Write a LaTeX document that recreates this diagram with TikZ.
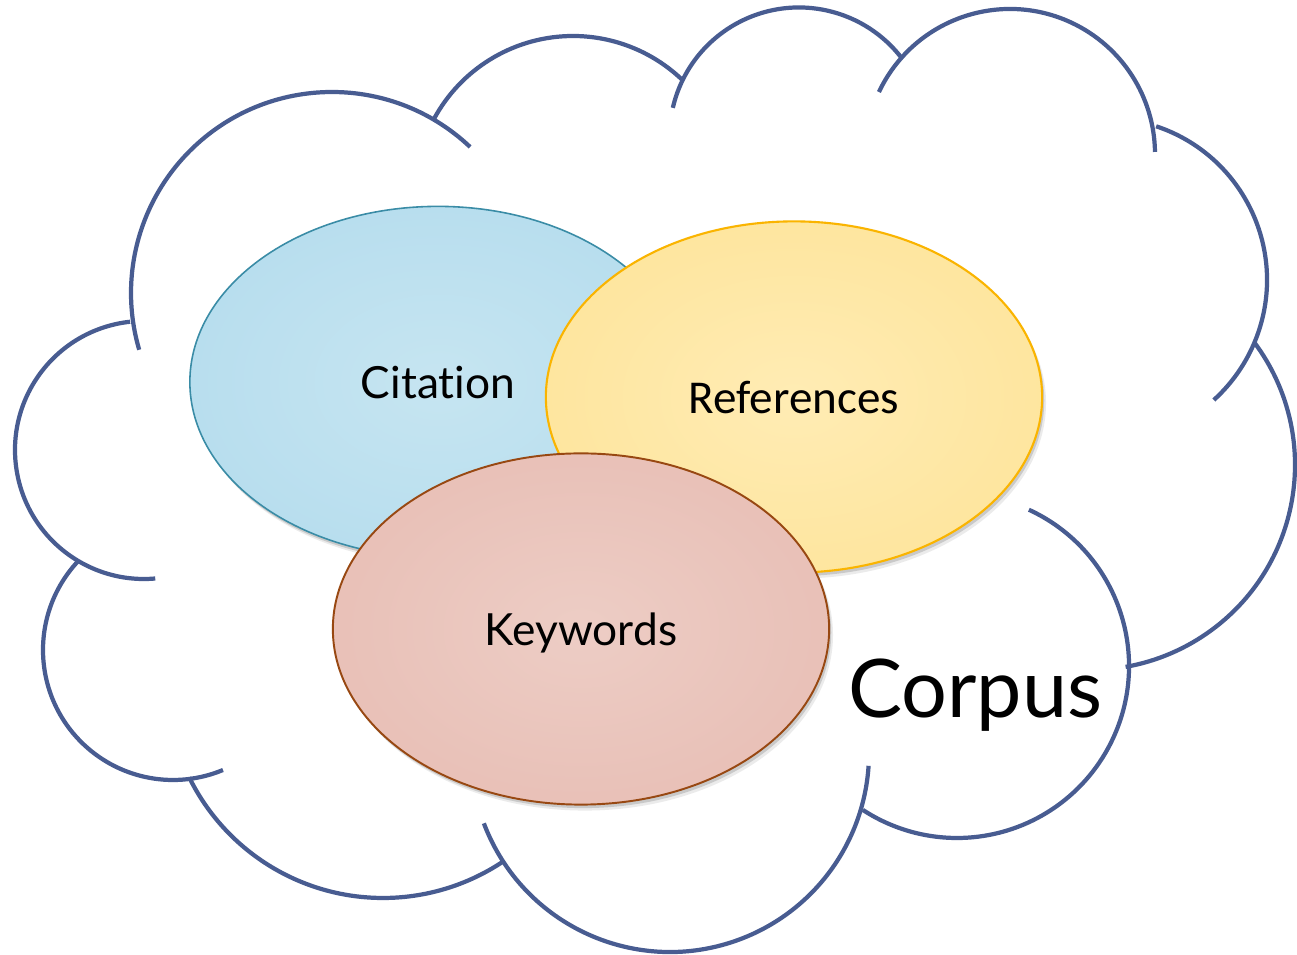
\documentclass[tikz,border=0pt]{standalone}
\usepackage{fontspec}
\newfontfamily\gillfont{Lato}[Ligatures=NoCommon]
\newfontfamily\calibfont{Carlito}
\usetikzlibrary{shapes.geometric,shadows}
\definecolor{cloudblue}{RGB}{72,92,145}
\definecolor{blueIn}{RGB}{198,229,241}
\definecolor{blueOut}{RGB}{170,215,235}
\definecolor{blueBorder}{RGB}{58,140,166}
\definecolor{yelIn}{RGB}{255,236,180}
\definecolor{yelOut}{RGB}{253,223,138}
\definecolor{yelBorder}{RGB}{250,180,0}
\definecolor{pinkIn}{RGB}{237,205,197}
\definecolor{pinkOut}{RGB}{228,180,170}
\definecolor{pinkBorder}{RGB}{152,72,18}
\pgfdeclareradialshading{blueshade}{\pgfpointorigin}{color(0bp)=(blueIn); color(50bp)=(blueOut)}
\pgfdeclareradialshading{yelshade}{\pgfpointorigin}{color(0bp)=(yelIn); color(50bp)=(yelOut)}
\pgfdeclareradialshading{pinkshade}{\pgfpointorigin}{color(0bp)=(pinkIn); color(50bp)=(pinkOut)}
\newcommand\carc[5]{\draw[cloudline] (#1,#2) ++(#3:#5) arc[start angle=#3,end angle=#4,radius=#5];}
\begin{document}
\begin{tikzpicture}[x=0.01cm,y=0.01cm,
  cloudline/.style={draw=cloudblue,line width=1.2pt,line cap=butt},
  bubble/.style={ellipse,minimum width=4.96cm,minimum height=3.51cm,inner sep=0pt,text depth=0pt,
    drop shadow={shadow xshift=0.6pt,shadow yshift=-1.0pt,opacity=0.14,fill=black},
    drop shadow={shadow xshift=1.1pt,shadow yshift=-1.7pt,opacity=0.08,fill=black}}]
\fill[white] (0,0) rectangle (1297,955);
\useasboundingbox (0,0) rectangle (1297,955);
% cloud outline (arcs)
\carc{332}{662}{46.6}{196.4}{201}
\carc{573}{761}{151.7}{46.3}{158}
\carc{799}{818}{167}{37}{129.5}
\carc{1010}{801}{154.7}{0.8}{145}
\carc{1105}{675}{71.6}{-47.8}{162}
\carc{1090}{490}{36.5}{-80}{205}
\carc{957}{289}{65.3}{-123.2}{172}
\carc{670}{202}{200.7}{356.3}{199}
\carc{383}{273}{206.2}{304}{216}
\carc{173}{305}{136.9}{292.6}{130}
\carc{144}{505}{96.2}{275}{129}
% bubbles
\node[bubble,shading=blueshade,draw=blueBorder,line width=0.45pt] (cit) at (438,573)
  {\gillfont\fontsize{12.6}{15}\selectfont Citation};
\node[bubble,shading=yelshade,draw=yelBorder,line width=0.6pt] (ref) at (794,558)
  {\calibfont\fontsize{13.4}{16}\selectfont References};
\node[bubble,shading=pinkshade,draw=pinkBorder,line width=0.55pt] (key) at (581,326)
  {\gillfont\fontsize{12.6}{15}\selectfont Keywords};
\node[anchor=base,inner sep=0pt] (corpus) at (975,237)
  {\gillfont\fontsize{23}{28}\selectfont Corpus};
\end{tikzpicture}
\end{document}
